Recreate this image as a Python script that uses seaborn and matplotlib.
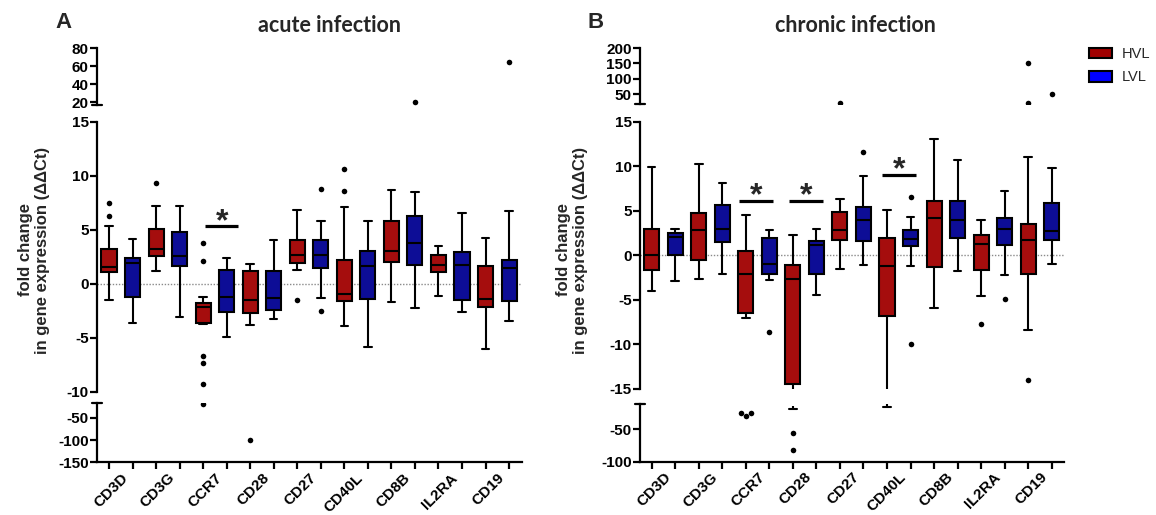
import matplotlib
matplotlib.use("Agg")
import matplotlib.pyplot as plt
import numpy as np
import pandas as pd
import seaborn as sns
from matplotlib.patches import Patch
from matplotlib.lines import Line2D

# ---------------- data ----------------
genes = ["CD3D", "CD3G", "CCR7", "CD28", "CD27", "CD40L", "CD8B", "IL2RA", "CD19"]
groups = ["HVL", "LVL"]

# box summaries per gene: (lower whisker, Q1, median, Q3, upper whisker)
acute_hvl = [(-1.5, 1.05, 1.5, 3.2, 5.3), (1.2, 2.6, 3.2, 5.06, 7.15), (-3.7, -3.6, -2.2, -1.8, -1.2),
             (-3.8, -2.7, -1.5, 1.15, 1.8), (1.3, 1.9, 2.7, 4.07, 6.8), (-3.9, -1.64, -0.96, 2.2, 7.07),
             (-1.73, 2.04, 3.0, 5.77, 8.67), (-1.17, 1.05, 1.76, 2.7, 3.5), (-6.05, -2.13, -1.42, 1.6, 4.2)]
acute_lvl = [(-3.64, -1.27, 1.9, 2.4, 4.1), (-3.1, 1.67, 2.6, 4.75, 7.15), (-4.97, -2.6, -1.27, 1.3, 2.4),
             (-3.27, -2.44, -1.33, 1.2, 4.07), (-1.33, 1.45, 2.7, 4.04, 5.8), (-5.83, -1.42, 1.67, 3.06, 5.77),
             (-2.25, 1.73, 3.77, 6.3, 8.45), (-2.65, -1.48, 1.76, 2.9, 6.5), (-3.43, -1.64, 1.42, 2.22, 6.76)]
acute_hvl_out = [[7.5, 6.3], [9.3], [3.8, 2.1, -6.7, -7.3, -9.3, -18], [-100], [-1.5], [10.6, 8.55], [], [], []]
acute_lvl_out = [[], [], [], [], [8.8, -2.56], [], [20], [], [65]]

chronic_hvl = [(-4.0, -1.69, 0.0, 3.0, 9.93), (-2.6, -0.56, 2.8, 4.7, 10.2), (-7.0, -6.45, -2.14, 0.48, 4.5),
               (-20, -14.4, -2.6, -1.12, 2.25), (-1.57, 1.76, 2.8, 4.87, 6.3), (-16, -6.8, -1.24, 2.0, 5.06),
               (-5.9, -1.3, 4.24, 6.07, 13.1), (-4.6, -1.69, 1.24, 2.33, 4.0), (-8.36, -2.06, 1.76, 3.56, 11.0)]
chronic_lvl = [(-2.9, 0.0, 2.06, 2.55, 3.0), (-2.06, 1.5, 3.0, 5.6, 8.1), (-2.8, -2.06, -1.0, 2.0, 2.8),
               (-4.5, -2.14, 1.12, 1.6, 3.0), (-1.05, 1.6, 3.94, 5.43, 8.9), (-1.2, 1.0, 1.88, 2.89, 4.3),
               (-1.8, 1.95, 3.94, 6.07, 10.7), (-2.17, 1.2, 3.0, 4.24, 7.2), (-1.0, 1.69, 2.7, 5.93, 9.75)]
chronic_hvl_out = [[], [], [-25.5, -29.5, -26], [-56, -82], [22], [], [], [-7.76], [150, 20, -14.0]]
chronic_lvl_out = [[], [], [-8.6], [], [11.55], [6.6, -10.0], [], [-4.87], [50]]

# significance bars: (x start slot, x end slot, y)
acute_sig = [(4.1, 5.5, 5.3)]
chronic_sig = [(3.7, 5.15, 6.07), (5.85, 7.3, 6.07), (9.8, 11.25, 9.0)]

acute_yticks = [[20, 40, 60, 80], [-10, -5, 0, 5, 10, 15], [-150, -100, -50]]
chronic_yticks = [[50, 100, 150, 200], [-15, -10, -5, 0, 5, 10, 15], [-100, -50]]

# ---------------- style ----------------
sns.set_theme(style="ticks")
plt.rcParams['font.family'] = ['Liberation Sans', 'DejaVu Sans']
plt.rcParams['axes.edgecolor'] = 'black'
plt.rcParams['xtick.color'] = 'black'
plt.rcParams['ytick.color'] = 'black'

box_colors = {"HVL": "#a50d0d", "LVL": "#0d0d96"}
legend_colors = {"HVL": "#a00000", "LVL": "#0000ff"}

W, H = 1156, 515
fig = plt.figure(figsize=(W / 100, H / 100), dpi=100)

slots = [f"{g} {grp}" for g in genes for grp in groups]


def build_frames(hvl, lvl, hvl_out, lvl_out):
    rows, orows = [], []
    for i, g in enumerate(genes):
        for grp, stats, outs in (("HVL", hvl[i], hvl_out[i]), ("LVL", lvl[i], lvl_out[i])):
            for v in stats:
                rows.append({"slot": f"{g} {grp}", "group": grp, "value": v})
            for v in outs:
                orows.append({"slot": f"{g} {grp}", "group": grp, "value": v})
    return pd.DataFrame(rows), pd.DataFrame(orows, columns=["slot", "group", "value"])


def prune(ax, lo, hi):
    """Remove box parts that do not really reach into this axis segment."""
    margin = 0.04 * (hi - lo)
    for ln in list(ax.lines):
        y = np.asarray(ln.get_ydata(), float)
        if y.size and (np.nanmax(y) <= lo + margin * 0.5 or np.nanmin(y) >= hi - margin * 0.5):
            ln.remove()
    for p in list(ax.patches):
        v = p.get_path().vertices[:, 1]
        if v.max() <= lo + margin or v.min() >= hi - margin:
            p.remove()


def draw_panel(hvl, lvl, hvl_out, lvl_out, xl, xr, segs, xlim, yticks, sigs,
               title, title_x, letter, letter_x, ylabel_x):
    box_df, out_df = build_frames(hvl, lvl, hvl_out, lvl_out)
    mid_lo, mid_hi = segs[1][2]
    for k, (top, bot, ylim) in enumerate(segs):
        ax = fig.add_axes([xl / W, 1 - bot / H, (xr - xl) / W, (bot - top) / H])
        sns.boxplot(data=box_df, x="slot", y="value", hue="group", order=slots, hue_order=groups,
                    palette=box_colors, dodge=False, width=0.64, whis=(0, 100), showfliers=False,
                    saturation=1, linecolor="black", linewidth=1.5, legend=False, ax=ax)
        lo, hi = ylim
        if k == 0:
            lo = max(lo, mid_hi)
        elif k == 2:
            hi = min(hi, mid_lo)
        seg_out = out_df[(out_df["value"] > lo) & (out_df["value"] < hi)]
        if len(seg_out):
            sns.swarmplot(data=seg_out, x="slot", y="value", order=slots, color="black",
                          size=4, ax=ax)
        if k != 1:
            prune(ax, *ylim)
        ax.set_xlim(*xlim)
        ax.set_ylim(*ylim)
        ax.set_yticks(yticks[k])
        ax.set_yticklabels([str(t) for t in yticks[k]], fontweight='bold', fontsize=11)
        ax.set_xlabel("")
        ax.set_ylabel("")
        ax.patch.set_alpha(0)
        for s in ("top", "right"):
            ax.spines[s].set_visible(False)
        ax.spines["left"].set_linewidth(1.6)
        ax.tick_params(axis='y', length=5, width=1.6, pad=1, direction='out')
        if k < 2:
            ax.spines["bottom"].set_visible(False)
            ax.tick_params(axis='x', bottom=False, labelbottom=False)
        else:
            ax.spines["bottom"].set_linewidth(1.6)
            ax.set_xticks(range(len(slots)))
            ax.set_xticklabels([""] * len(slots))
            ax.tick_params(axis='x', which='major', length=5, width=1.6, direction='out')
            centers = [2 * i + 0.5 for i in range(len(genes))]
            ax.set_xticks(centers, minor=True)
            ax.set_xticklabels(genes, minor=True, rotation=45, ha='right', rotation_mode='anchor',
                               fontweight='bold', fontsize=11)
            ax.tick_params(axis='x', which='minor', length=0, pad=6)
        if k == 1:
            ax.axhline(0, color='#8a8a8a', ls=(0, (1, 1.2)), lw=1.0, zorder=0)
            for x0, x1, y in sigs:
                ax.plot([x0, x1], [y, y], color='black', lw=2.3, solid_capstyle='butt')
                ax.annotate('*', xy=((x0 + x1) / 2, y), xytext=(0, -2.5), textcoords='offset points',
                            ha='center', va='baseline', fontsize=23, fontweight='bold')

    # break caps on the y axis
    for ypx in (segs[0][1], segs[2][0]):
        fig.add_artist(Line2D([(xl - 5) / W, (xl + 5) / W], [1 - ypx / H, 1 - ypx / H],
                              transform=fig.transFigure, color='black', lw=1.6))

    fig.text(letter_x / W, 1 - 28 / H, letter, fontsize=16, fontweight='bold',
             ha='center', va='baseline')
    fig.text(title_x / W, 1 - 31.5 / H, title, fontsize=15.5, fontweight='bold',
             family=['Lato', 'DejaVu Sans'], ha='center', va='baseline')
    fig.text(ylabel_x / W, 1 - 250 / H, "fold change\nin gene expression (\u0394\u0394Ct)",
             rotation=90, ha='center', va='center', multialignment='center', fontsize=12,
             fontweight='bold', linespacing=1.2)


draw_panel(acute_hvl, acute_lvl, acute_hvl_out, acute_lvl_out, 97, 522,
           [(48, 105, (16.7, 80)), (121.7, 391.7, (-10, 15)), (402.7, 462.3, (-150, -15.5))],
           (-0.51, 17.55), acute_yticks, acute_sig,
           "acute infection", 330, "A", 63, 34)

draw_panel(chronic_hvl, chronic_lvl, chronic_hvl_out, chronic_lvl_out, 640, 1064,
           [(48, 104, (17.4, 200)), (121.7, 389, (-15, 15)), (404.3, 461.7, (-100, -12.2))],
           (-0.497, 17.52), chronic_yticks, chronic_sig,
           "chronic infection", 855, "B", 596, 572)

handles = [Patch(facecolor=legend_colors[g], edgecolor='black', linewidth=1.5, label=g) for g in groups]
fig.legend(handles=handles, loc='upper left', bbox_to_anchor=(1089 / W, 1 - 47 / H), frameon=False,
           fontsize=10.5, handlelength=1.55, handleheight=0.75, handletextpad=0.7, labelspacing=0.65,
           borderpad=0, borderaxespad=0)

fig.savefig("out.png", dpi=100)
